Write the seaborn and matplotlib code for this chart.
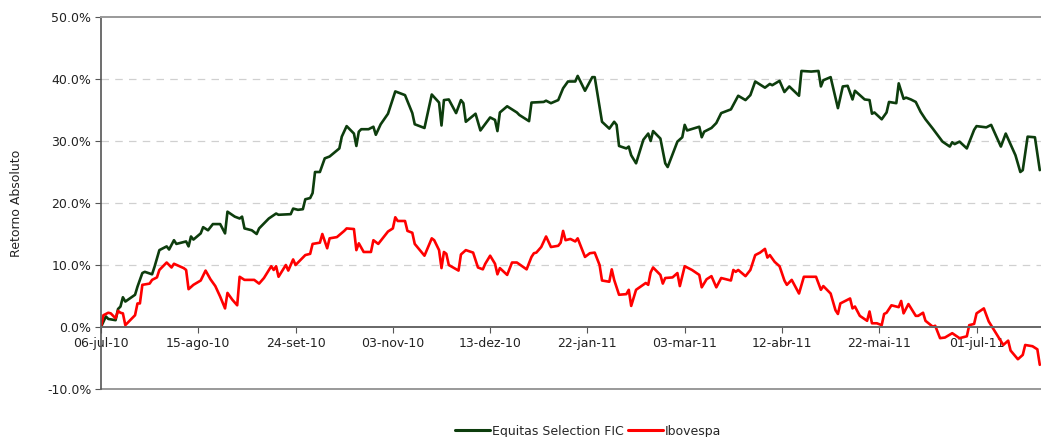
import pandas as pd
import matplotlib.pyplot as plt
import matplotlib.ticker as mticker
import seaborn as sns

inicio = pd.Timestamp('2010-07-06')

# dias corridos desde 06-jul-10 e retorno acumulado (%)
dias_fic = [0, 2, 3, 6, 7, 8, 9, 10, 14, 15, 17, 18, 21, 22, 24, 27, 28, 30, 31, 35,
            36, 37, 38, 41, 42, 44, 46, 49, 51, 52, 55, 57, 58, 59, 62, 64, 65, 69, 72, 73,
            78, 79, 81, 83, 84, 86, 87, 88, 90, 92, 94, 98, 99, 101, 104, 105, 106, 107, 110, 112,
            113, 115, 118, 121, 125, 128, 129, 133, 136, 139, 140, 141, 143, 146, 148, 149, 150, 154, 156, 160,
            162, 163, 164, 167, 169, 171, 172, 176, 177, 182, 183, 185, 188, 190, 192, 195, 196, 199, 202, 203,
            206, 209, 211, 212, 213, 216, 217, 218, 220, 223, 225, 226, 227, 230, 232, 233, 237, 239, 240, 241,
            246, 247, 248, 251, 253, 255, 259, 262, 265, 267, 269, 273, 275, 276, 279, 281, 283, 287, 288, 292,
            295, 296, 297, 300, 303, 305, 307, 309, 310, 314, 316, 317, 318, 321, 323, 324, 327, 328, 330, 331,
            333, 335, 337, 339, 342, 346, 349, 350, 351, 353, 356, 359, 360, 364, 366, 370, 372, 376, 378, 379,
            381, 384, 386]
equitas = [0.0, 1.7, 1.3, 1.1, 2.9, 3.3, 4.8, 4.1, 5.2, 6.5, 8.7, 8.9, 8.5, 9.7, 12.4, 13.0, 12.5, 14.0, 13.4, 13.8,
           13.0, 14.6, 14.1, 15.1, 16.1, 15.6, 16.6, 16.6, 15.1, 18.6, 17.8, 17.5, 17.8, 15.9, 15.6, 15.0, 15.9, 17.5, 18.3, 18.1,
           18.2, 19.1, 18.9, 19.0, 20.6, 20.8, 21.6, 25.0, 25.0, 27.2, 27.5, 28.8, 30.7, 32.4, 31.2, 29.2, 31.5, 31.9, 31.9, 32.3,
           31.0, 32.7, 34.4, 38.0, 37.4, 34.5, 32.7, 32.1, 37.5, 36.2, 32.5, 36.6, 36.7, 34.5, 36.6, 36.1, 33.1, 34.4, 31.7, 33.8,
           33.4, 31.6, 34.6, 35.6, 35.1, 34.6, 34.2, 33.2, 36.2, 36.3, 36.5, 36.1, 36.6, 38.5, 39.6, 39.6, 40.5, 38.1, 40.3, 40.3,
           33.1, 32.0, 33.1, 32.6, 29.2, 28.8, 29.1, 27.7, 26.4, 30.2, 31.2, 30.0, 31.6, 30.4, 26.4, 25.8, 29.9, 30.6, 32.6, 31.7,
           32.3, 30.6, 31.5, 32.1, 32.9, 34.5, 35.1, 37.3, 36.6, 37.4, 39.6, 38.6, 39.2, 39.0, 39.7, 37.9, 38.8, 37.3, 41.3, 41.2,
           41.3, 38.8, 39.8, 40.3, 35.3, 38.8, 38.9, 36.7, 38.1, 36.7, 36.6, 34.4, 34.6, 33.5, 34.6, 36.3, 36.1, 39.3, 36.8, 37.0,
           36.7, 36.3, 34.7, 33.5, 32.0, 29.9, 29.1, 29.8, 29.5, 29.9, 28.8, 31.8, 32.4, 32.2, 32.6, 29.1, 31.2, 27.7, 25.0, 25.3,
           30.7, 30.6, 25.3]

dias_ibov = [0, 1, 3, 4, 6, 7, 8, 9, 10, 14, 15, 16, 17, 20, 21, 23, 24, 27, 29, 30,
             34, 35, 36, 38, 41, 43, 45, 47, 49, 51, 52, 54, 56, 57, 59, 63, 65, 67, 70, 71,
             72, 73, 76, 77, 79, 80, 84, 86, 87, 90, 91, 93, 94, 97, 100, 101, 104, 105, 106, 108,
             111, 112, 114, 118, 120, 121, 122, 125, 126, 128, 129, 133, 136, 137, 139, 140, 141, 142, 143, 147,
             148, 150, 153, 155, 157, 158, 160, 162, 163, 164, 167, 169, 171, 175, 177, 178, 179, 181, 183, 185,
             188, 189, 190, 191, 193, 195, 196, 199, 201, 203, 205, 206, 209, 210, 211, 213, 216, 217, 218, 220,
             224, 225, 226, 227, 230, 231, 232, 235, 237, 238, 240, 243, 246, 247, 249, 251, 253, 255, 259, 260,
             261, 262, 265, 267, 269, 271, 273, 274, 275, 277, 279, 281, 282, 284, 287, 289, 294, 296, 297, 300,
             302, 303, 304, 308, 309, 310, 312, 315, 316, 317, 319, 321, 322, 323, 325, 328, 329, 330, 332, 335,
             336, 338, 339, 342, 343, 345, 347, 350, 353, 356, 357, 359, 360, 363, 365, 371, 373, 374, 377, 379,
             380, 383, 385, 386]
ibovespa = [0.0, 1.9, 2.3, 2.2, 1.4, 2.6, 2.3, 2.2, 0.3, 1.9, 3.8, 3.8, 6.8, 7.0, 7.6, 8.0, 9.2, 10.4, 9.6, 10.2,
            9.5, 9.2, 6.1, 6.8, 7.5, 9.1, 7.7, 6.6, 4.9, 3.0, 5.5, 4.4, 3.5, 8.1, 7.6, 7.6, 7.0, 7.9, 9.8, 9.2,
            9.8, 8.1, 10.0, 9.1, 10.9, 10.0, 11.6, 11.8, 13.4, 13.6, 15.0, 12.7, 14.3, 14.5, 15.5, 15.9, 15.8, 12.4, 13.5, 12.1,
            12.1, 14.0, 13.4, 15.4, 15.9, 17.7, 17.1, 17.1, 15.5, 15.2, 13.4, 11.5, 14.3, 14.0, 12.4, 9.5, 12.1, 11.8, 10.0, 9.1,
            11.7, 12.4, 12.0, 9.6, 9.3, 10.2, 11.5, 10.2, 8.5, 9.5, 8.4, 10.4, 10.4, 9.3, 11.3, 11.9, 12.0, 12.9, 14.6, 12.9,
            13.1, 13.6, 15.5, 14.0, 14.2, 13.8, 14.3, 11.3, 11.9, 12.0, 10.0, 7.5, 7.3, 9.3, 7.6, 5.2, 5.3, 6.0, 3.4, 6.0,
            7.1, 6.8, 8.8, 9.6, 8.4, 7.0, 7.9, 8.0, 8.7, 6.6, 9.8, 9.2, 8.4, 6.4, 7.7, 8.2, 6.4, 7.9, 7.5, 9.2,
            8.9, 9.2, 8.2, 9.2, 11.6, 12.0, 12.6, 11.2, 11.6, 10.5, 9.8, 7.5, 6.8, 7.6, 5.4, 8.1, 8.1, 6.0, 6.6, 5.4,
            2.7, 2.1, 3.8, 4.6, 3.0, 3.3, 1.8, 1.0, 2.5, 0.6, 0.6, 0.3, 2.1, 2.3, 3.5, 3.2, 4.2, 2.2, 3.7, 1.8,
            1.8, 2.3, 1.0, 0.05, 0.2, -1.8, -1.7, -1.0, -1.8, -1.5, 0.3, 0.5, 2.2, 3.0, 0.9, -2.9, -2.2, -3.8, -5.2, -4.5,
            -2.9, -3.1, -3.6, -6.1]

series = ['Equitas Selection FIC', 'Ibovespa']
cores = ['#0d3d0d', '#ff0000']
meses = ['jan', 'fev', 'mar', 'abr', 'mai', 'jun', 'jul', 'ago', 'set', 'out', 'nov', 'dez']

df = pd.concat([
    pd.DataFrame({'dia': dias_fic, 'retorno': equitas, 'serie': series[0]}),
    pd.DataFrame({'dia': dias_ibov, 'retorno': ibovespa, 'serie': series[1]}),
])

sns.set_style('white')
plt.rcParams['font.family'] = ['DejaVu Sans']

fig = plt.figure(figsize=(10.41, 4.37), dpi=100)
ax = fig.add_axes([101 / 1041, 1 - 389 / 437, 940 / 1041, 372 / 437])

sns.lineplot(data=df, x='dia', y='retorno', hue='serie', palette=cores,
             linewidth=1.9, ax=ax, legend=False, estimator=None, sort=False)

ax.set_xlim(0, 386.5)
ax.set_ylim(-10, 50)

# grade tracejada
for v in [10, 20, 30, 40]:
    ax.axhline(v, color='#d0d0d0', linestyle=(0, (6, 5)), linewidth=0.9, zorder=0)
ax.axhline(-10, color='#999999', linewidth=1.4, clip_on=False)

ax.spines['right'].set_visible(False)
ax.spines['top'].set_color('#999999')
ax.spines['top'].set_linewidth(1.4)
ax.spines['left'].set_color('#555555')
ax.spines['left'].set_linewidth(1.2)
ax.spines['bottom'].set_position(('data', 0))
ax.spines['bottom'].set_color('#666666')
ax.spines['bottom'].set_linewidth(1.4)

ticks = list(range(0, 361, 40))
rotulos = []
for t in ticks:
    d = inicio + pd.Timedelta(days=t)
    rotulos.append(f"{d.day:02d}-{meses[d.month - 1]}-{d.strftime('%y')}")
ax.set_xticks(ticks)
ax.set_xticklabels(rotulos, fontsize=9, color='#222222')
ax.tick_params(axis='x', direction='out', length=4, color='#555555', pad=3)

ax.set_yticks(range(-10, 51, 10))
ax.yaxis.set_major_formatter(mticker.FuncFormatter(lambda v, p: f'{v:.1f}%'))
ax.tick_params(axis='y', direction='out', length=4, color='#555555', labelsize=9,
               labelcolor='#222222', pad=3)
ax.tick_params(left=True, bottom=True)

ax.set_xlabel('')
ax.set_ylabel('Retorno Absoluto', fontsize=9, color='#222222', labelpad=17)

handles = [plt.Line2D([], [], color=c, linewidth=2.2) for c in cores]
fig.legend(handles, series, loc='center', bbox_to_anchor=(588 / 1041, 1 - 431 / 437),
           ncol=2, frameon=False, fontsize=9, handlelength=2.8, handletextpad=0.2,
           columnspacing=0.3)

fig.savefig('out.png', dpi=100)
